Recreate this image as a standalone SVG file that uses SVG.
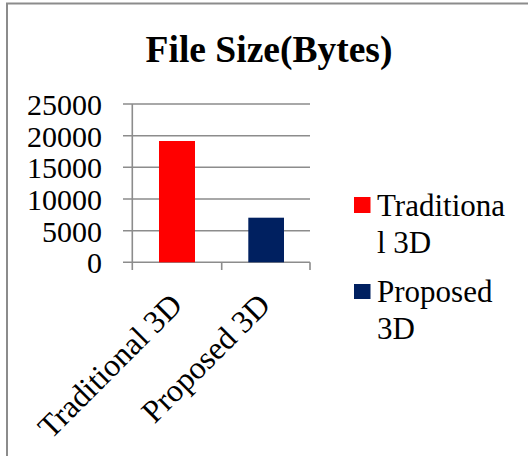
<svg xmlns="http://www.w3.org/2000/svg" width="528" height="456" viewBox="0 0 528 456">
<style>
.t{font-family:"Liberation Serif","Times New Roman",serif;font-size:30px;fill:#000}
.l{font-family:"Liberation Serif","Times New Roman",serif;font-size:31px;fill:#000}
.x{font-family:"Liberation Serif","Times New Roman",serif;font-size:32px;fill:#000}
.g{stroke:#8c8c8c;stroke-width:1.6;fill:none}
</style>
<rect width="528" height="456" fill="#fff"/>
<g id="frame"><path d="M7,456 V3.5 H528" stroke="#8c8c8c" stroke-width="2" fill="none"/></g>
<g id="title"><text x="269" y="62" text-anchor="middle" style="font-family:'Liberation Serif','Times New Roman',serif;font-size:37.5px;font-weight:bold">File Size(Bytes)</text></g>
<g id="grid">
<path class="g" d="M123,104H310M123,135.7H310M123,167.3H310M123,199H310M123,230.7H310M123,262.3H310"/>
<path class="g" d="M132.3,104V270M221.7,262.3V270M310,262.3V270"/>
</g>
<g id="yaxis">
<text class="t" x="102" y="115" text-anchor="end">25000</text>
<text class="t" x="102" y="146.7" text-anchor="end">20000</text>
<text class="t" x="102" y="178.3" text-anchor="end">15000</text>
<text class="t" x="102" y="210" text-anchor="end">10000</text>
<text class="t" x="102" y="241.7" text-anchor="end">5000</text>
<text class="t" x="102" y="273.3" text-anchor="end">0</text>
</g>
<g id="bar-traditional"><rect x="159" y="141" width="36" height="121.3" fill="#ff0000"/></g>
<g id="bar-proposed"><rect x="248.3" y="217.7" width="35.7" height="44.6" fill="#002060"/></g>
<g id="xaxis">
<text class="x" transform="translate(184,307) rotate(-45)" text-anchor="end">Traditional 3D</text>
<text class="x" transform="translate(272,307) rotate(-45)" text-anchor="end">Proposed 3D</text>
</g>
<g id="legend-traditional">
<rect x="354" y="197" width="16.5" height="16" fill="#ff0000"/>
<text class="l" x="377" y="215.5">Traditiona</text>
<text class="l" x="377" y="253">l 3D</text>
</g>
<g id="legend-proposed">
<rect x="354" y="284" width="16.5" height="15" fill="#002060"/>
<text class="l" x="377" y="301.5">Proposed</text>
<text class="l" x="377" y="338.5">3D</text>
</g>
</svg>
